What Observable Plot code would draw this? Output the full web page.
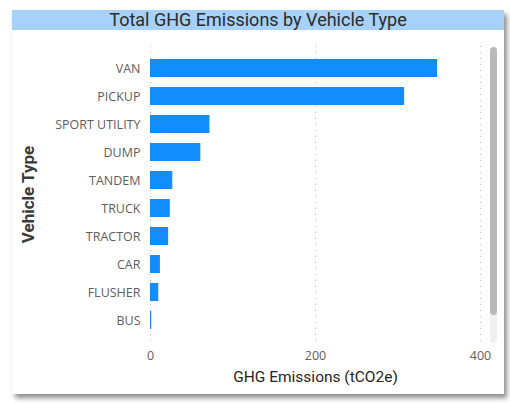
<!DOCTYPE html>
<html>
<head>
<meta charset="utf-8">
<script src="https://cdn.jsdelivr.net/npm/d3@7"></script>
<script src="https://cdn.jsdelivr.net/npm/@observablehq/plot@0.6"></script>
<style>
  html, body { margin: 0; padding: 0; background: #fff; width: 510px; height: 403px; overflow: hidden; }
  #card { position: absolute; left: 12px; top: 10px; width: 492px; height: 384px; background: #fff;
          box-shadow: 3px 4px 5px rgba(0,0,0,0.45); }
  #title { position: absolute; left: 12px; top: 10px; width: 492px; height: 20px; background: #a6d1fb;
           font-family: Roboto, "Noto Sans", sans-serif; font-size: 18px; line-height: 20px; text-align: center; color: #2b2b2b; }
  #chart { position: absolute; left: 0; top: 0; }
  #thumb { position: absolute; left: 490px; top: 47px; width: 7px; height: 268px; background: #b9b9b9; border-radius: 4px; }
  #track { position: absolute; left: 490px; top: 312px; width: 7px; height: 31px; background: #efefef; border-radius: 4px; }
</style>
</head>
<body>
<div id="card"></div>
<div id="title">Total GHG Emissions by Vehicle Type</div>
<div id="chart"></div>
<div id="track"></div>
<div id="thumb"></div>
<script>
const vehicleTypes = ["VAN", "PICKUP", "SPORT UTILITY", "DUMP", "TANDEM", "TRUCK", "TRACTOR", "CAR", "FLUSHER", "BUS"];
const emissions = [348, 308, 72, 61, 27, 24, 22, 12, 10, 1.5];
const xTicks = [0, 200, 400];

const data = vehicleTypes.map((t, i) => ({type: t, value: emissions[i]}));

const chart = Plot.plot({
  width: 510,
  height: 403,
  marginLeft: 150,
  marginRight: 30,
  marginTop: 48,
  marginBottom: 63,
  style: {background: "transparent", fontFamily: "'Open Sans', 'Noto Sans', sans-serif", fontSize: "12px", color: "#605e5c"},
  x: {domain: [0, 400], ticks: xTicks},
  y: {domain: vehicleTypes, padding: 0.35},
  marks: [
    Plot.ruleX(xTicks, {stroke: "#bdbdbd", strokeDasharray: "1,5", insetTop: -2, insetBottom: -6}),
    Plot.barX(data, {x: "value", y: "type", fill: "#118dff"}),
    Plot.axisX({ticks: xTicks, tickSize: 0, tickPadding: 11, fontSize: 12.5, fill: "#605e5c", label: null}),
    Plot.axisY({tickSize: 0, tickPadding: 10, fontSize: 12.5, fill: "#605e5c", label: null}),
    Plot.text(["GHG Emissions (tCO2e)"], {frameAnchor: "bottom", dy: 41, fontSize: 15.5, fill: "#252423",
      fontFamily: "Roboto, 'Noto Sans', sans-serif"}),
    Plot.text(["Vehicle Type"], {frameAnchor: "left", textAnchor: "middle", dx: -122, rotate: -90, fontSize: 17, fontWeight: "bold", fill: "#3a3a3a",
      fontFamily: "Roboto, 'Noto Sans', sans-serif"})
  ]
});
document.getElementById("chart").appendChild(chart);
</script>
</body>
</html>
